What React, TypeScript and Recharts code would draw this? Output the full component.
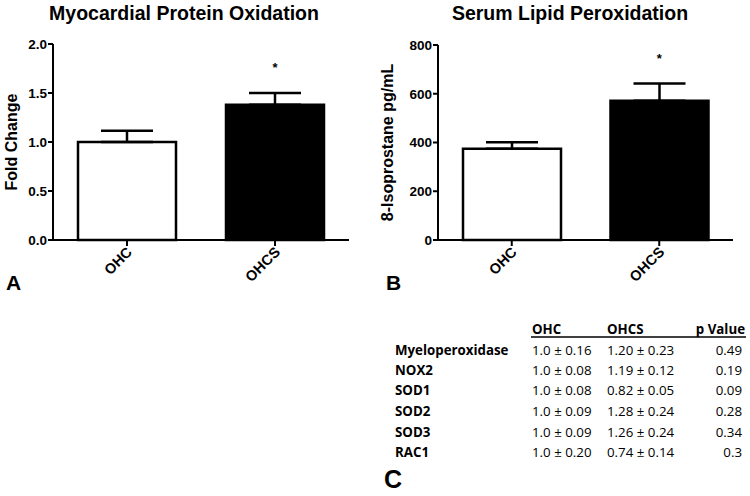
import React from "react";
import { Bar, BarChart, Cell, ErrorBar, ReferenceDot, XAxis, YAxis } from "recharts";

const groups = ["OHC", "OHCS"];
const barFills = ["#ffffff", "#000000"];

// panel A: myocardial protein oxidation (fold change)
const proteinMean = [1.0, 1.38];
const proteinErr = [0.115, 0.12];
const proteinStar = 1.76;
const proteinTicks = [0, 0.5, 1, 1.5, 2];

// panel B: serum 8-isoprostane (pg/mL)
const lipidMean = [374, 571];
const lipidErr = [27, 71];
const lipidStar = 747;
const lipidTicks = [0, 200, 400, 600, 800];

// panel C: table
const markers = ["Myeloperoxidase", "NOX2", "SOD1", "SOD2", "SOD3", "RAC1"];
const ohcVals = ["1.0 ± 0.16", "1.0 ± 0.08", "1.0 ± 0.08", "1.0 ± 0.09", "1.0 ± 0.09", "1.0 ± 0.20"];
const ohcsVals = ["1.20 ± 0.23", "1.19 ± 0.12", "0.82 ± 0.05", "1.28 ± 0.24", "1.26 ± 0.24", "0.74 ± 0.14"];
const pVals = ["0.49", "0.19", "0.09", "0.28", "0.34", "0.3"];

const font = "'Liberation Sans', Arial, sans-serif";
const tableFont = "'Open Sans', sans-serif";

function buildRows(mean: number[], err: number[]) {
  return groups.map((g, i) => ({ group: g, mean: mean[i], err: [0, err[i]] }));
}

function GroupTick(props: any) {
  const { x, y, payload } = props;
  const ax = x + 6;
  const ay = y + 5;
  return (
    <text
      x={ax}
      y={ay}
      transform={`rotate(-45 ${ax} ${ay})`}
      textAnchor="end"
      fontSize={14.5}
      fontWeight="bold"
      fontFamily={font}
      fill="#000"
    >
      {payload.value}
    </text>
  );
}

type PanelProps = {
  rows: any[];
  width: number;
  margin: { top: number; right: number; bottom: number; left: number };
  yWidth: number;
  ticks: number[];
  fmt: (v: number) => string;
  yLabel: string;
  labelOffset: number;
  star: number;
};

function Panel({ rows, width, margin, yWidth, ticks, fmt, yLabel, labelOffset, star }: PanelProps) {
  const axisStyle = { stroke: "#000", strokeWidth: 2 };
  return (
    <BarChart width={width} height={300} data={rows} margin={margin} barSize={98}>
      <XAxis
        dataKey="group"
        axisLine={axisStyle}
        tickLine={axisStyle}
        tickSize={6}
        height={60}
        interval={0}
        tick={<GroupTick />}
      />
      <YAxis
        width={yWidth}
        domain={[ticks[0], ticks[ticks.length - 1]]}
        ticks={ticks}
        interval={0}
        tickFormatter={fmt}
        axisLine={axisStyle}
        tickLine={axisStyle}
        tickSize={5}
        tickMargin={1}
        tick={{ fill: "#000", fontSize: 13.5, fontWeight: 700, fontFamily: font }}
        label={{
          value: yLabel,
          angle: -90,
          position: "insideLeft",
          offset: labelOffset,
          style: { textAnchor: "middle", fontSize: 16, fontWeight: 700, fill: "#000", fontFamily: font },
        }}
      />
      <Bar dataKey="mean" stroke="#000" strokeWidth={2.5} isAnimationActive={false}>
        {rows.map((r, i) => (
          <Cell key={r.group} fill={barFills[i]} />
        ))}
        <ErrorBar dataKey="err" width={26} stroke="#000" strokeWidth={2.5} direction="y" isAnimationActive={false} />
      </Bar>
      <ReferenceDot
        x="OHCS"
        y={star}
        r={0}
        fill="none"
        stroke="none"
        label={{ value: "*", position: "center", fontSize: 13, fontWeight: 700, fill: "#000", fontFamily: font }}
      />
    </BarChart>
  );
}

export default function App() {
  const rowCenters = [350, 370, 390, 411, 432, 452];
  return (
    <div style={{ position: "absolute", left: 0, top: 0, width: 750, height: 496, background: "#fff" }}>
      <div style={{ position: "absolute", left: 0, top: 0 }}>
        <Panel
          rows={buildRows(proteinMean, proteinErr)}
          width={370}
          margin={{ top: 44, right: 21, bottom: 0, left: 0 }}
          yWidth={53}
          ticks={proteinTicks}
          fmt={(v) => v.toFixed(1)}
          yLabel="Fold Change"
          labelOffset={11}
          star={proteinStar}
        />
      </div>
      <div style={{ position: "absolute", left: 370, top: 0 }}>
        <Panel
          rows={buildRows(lipidMean, lipidErr)}
          width={380}
          margin={{ top: 45, right: 17, bottom: 0, left: 0 }}
          yWidth={68}
          ticks={lipidTicks}
          fmt={(v) => String(v)}
          yLabel="8-Isoprostane pg/mL"
          labelOffset={17}
          star={lipidStar}
        />
      </div>
      <svg width={750} height={496} style={{ position: "absolute", left: 0, top: 0, pointerEvents: "none" }}>
        <g fontFamily={font} fontWeight="bold" fill="#000">
          <text x={184} y={20} fontSize={19.5} textAnchor="middle">Myocardial Protein Oxidation</text>
          <text x={570} y={20} fontSize={19.5} textAnchor="middle">Serum Lipid Peroxidation</text>
          <text x={6} y={290} fontSize={21}>A</text>
          <text x={386} y={290} fontSize={21}>B</text>
          <text x={384} y={488} fontSize={25}>C</text>
        </g>
        <g fontFamily={tableFont} fontSize={13.3} fill="#000">
          <text x={532} y={334} fontWeight="bold">OHC</text>
          <text x={607} y={334} fontWeight="bold">OHCS</text>
          <text x={745} y={334} fontWeight="bold" textAnchor="end">p Value</text>
          <line x1={531} x2={746} y1={337} y2={337} stroke="#000" strokeWidth={1.5} />
          {markers.map((m, i) => (
            <g key={m}>
              <text x={395} y={rowCenters[i] + 4.5} fontWeight="bold">{m}</text>
              <text x={532} y={rowCenters[i] + 4.5}>{ohcVals[i]}</text>
              <text x={607} y={rowCenters[i] + 4.5}>{ohcsVals[i]}</text>
              <text x={742} y={rowCenters[i] + 4.5} textAnchor="end">{pVals[i]}</text>
            </g>
          ))}
        </g>
      </svg>
    </div>
  );
}
